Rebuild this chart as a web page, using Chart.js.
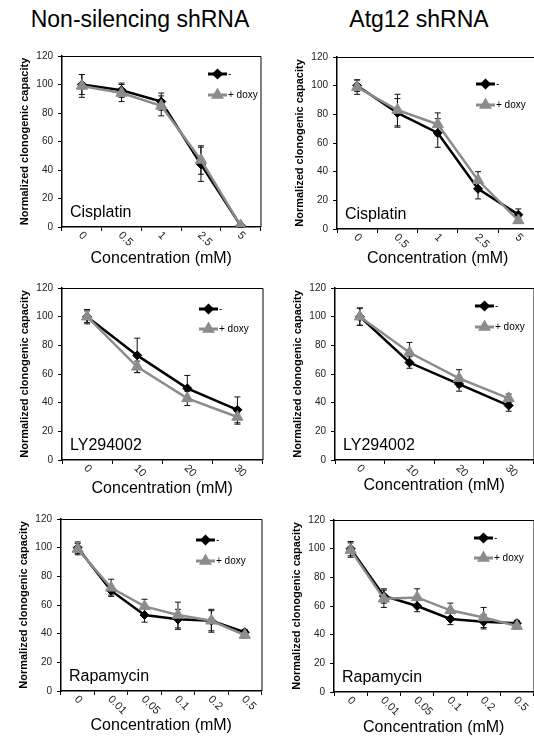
<!DOCTYPE html>
<html>
<head>
<meta charset="utf-8">
<script src="https://cdn.jsdelivr.net/npm/chart.js@4.4.0/dist/chart.umd.min.js"></script>
<style>
  html, body { margin: 0; padding: 0; background: #fff; }
  body { position: relative; width: 534px; height: 736px; overflow: hidden; font-family: "Liberation Sans", Arial, sans-serif; }
  .head { position: absolute; top: 8px; font-size: 23px; line-height: 23px; color: #000; white-space: nowrap; transform: translateX(-50%); }
  canvas { position: absolute; }
</style>
</head>
<body>
<div class="head" style="left:140px">Non-silencing shRNA</div>
<div class="head" style="left:419px">Atg12 shRNA</div>
<script>
"use strict";

// dose labels (mM)
const cisplatinDoses = ['0', '0.5', '1', '2.5', '5']
const lyDoses = ['0', '10', '20', '30']
const rapaDoses = ['0', '0.01', '0.05', '0.1', '0.2', '0.5']

// non-silencing shRNA
const nsCisCtrl = [100, 96, 88, 44, 1]
const nsCisCtrlErr = [7, 5, 6, 12, 1]
const nsCisDoxy = [99, 94, 85, 47, 1]
const nsCisDoxyErr = [8, 6, 7, 10, 1]

const nsLyCtrl = [100, 73, 50, 35]
const nsLyCtrlErr = [5, 12, 9, 9]
const nsLyDoxy = [100, 65, 43, 30]
const nsLyDoxyErr = [4, 4, 5, 5]

const nsRapaCtrl = [100, 70, 53, 50, 49, 41]
const nsRapaCtrlErr = [4, 3, 5, 7, 7, 2]
const nsRapaDoxy = [99, 72, 59, 53, 49, 39]
const nsRapaDoxyErr = [4, 6, 5, 9, 8, 2]

// Atg12 shRNA
const atgCisCtrl = [100, 81, 67, 28, 10]
const atgCisCtrlErr = [4, 10, 10, 7, 4]
const atgCisDoxy = [99, 83, 73, 34, 6]
const atgCisDoxyErr = [5, 11, 8, 6, 2]

const atgLyCtrl = [100, 68, 53, 38]
const atgLyCtrlErr = [6, 4, 5, 4]
const atgLyDoxy = [100, 75, 57, 43]
const atgLyDoxyErr = [6, 7, 6, 3]

const atgRapaCtrl = [100, 67, 60, 51, 49, 48]
const atgRapaCtrlErr = [5, 5, 4, 4, 5, 2]
const atgRapaDoxy = [99, 65, 66, 57, 52, 46]
const atgRapaDoxyErr = [5, 6, 6, 5, 7, 2]

const yTicks = [0, 20, 40, 60, 80, 100, 120]

const BLACK = '#000000'
const GREY = '#8c8c8c'
const FONT = '"Liberation Sans", Arial, sans-serif'

const panels = [
    { id: 'p1', drug: 'Cisplatin', doses: cisplatinDoses, ctrl: nsCisCtrl, ctrlErr: nsCisCtrlErr, doxy: nsCisDoxy, doxyErr: nsCisDoxyErr,
      box: [62, 55, 262, 227], legendX: 146, legendY: [18, 39], titleDy: 36 },
    { id: 'p2', drug: 'Cisplatin', doses: cisplatinDoses, ctrl: atgCisCtrl, ctrlErr: atgCisCtrlErr, doxy: atgCisDoxy, doxyErr: atgCisDoxyErr,
      box: [337, 56, 540, 229], legendX: 139, legendY: [27, 48], titleDy: 34 },
    { id: 'p3', drug: 'LY294002', doses: lyDoses, ctrl: nsLyCtrl, ctrlErr: nsLyCtrlErr, doxy: nsLyDoxy, doxyErr: nsLyDoxyErr,
      box: [62, 287, 264, 460], legendX: 137, legendY: [21, 41], titleDy: 33 },
    { id: 'p4', drug: 'LY294002', doses: lyDoses, ctrl: atgLyCtrl, ctrlErr: atgLyCtrlErr, doxy: atgLyDoxy, doxyErr: atgLyDoxyErr,
      box: [335, 287, 535, 460], legendX: 140, legendY: [18, 39], titleDy: 30 },
    { id: 'p5', drug: 'Rapamycin', doses: rapaDoses, ctrl: nsRapaCtrl, ctrlErr: nsRapaCtrlErr, doxy: nsRapaDoxy, doxyErr: nsRapaDoxyErr,
      box: [61, 518, 263, 691], legendX: 135, legendY: [21, 42], titleDy: 39 },
    { id: 'p6', drug: 'Rapamycin', doses: rapaDoses, ctrl: atgRapaCtrl, ctrlErr: atgRapaCtrlErr, doxy: atgRapaDoxy, doxyErr: atgRapaDoxyErr,
      box: [334, 519, 535, 692], legendX: 140, legendY: [18, 38], titleDy: 40 }
]

const Y_AXIS_W = 50
const X_AXIS_H = 50
const PAD_TOP = 10
const PAD_RIGHT = 6

const makeDecor = panel => ({
    id: 'decor',
    beforeDatasetsDraw(chart) {
        const ctx = chart.ctx
        const y = chart.scales.y
        const errs = [panel.ctrlErr, panel.doxyErr]
        ctx.save()
        ctx.strokeStyle = '#111'
        ctx.lineWidth = 1
        chart.data.datasets.forEach((ds, i) => {
            const meta = chart.getDatasetMeta(i)
            ds.data.forEach((v, j) => {
                const px = meta.data[j].x
                const top = y.getPixelForValue(v + errs[i][j])
                const bot = y.getPixelForValue(v - errs[i][j])
                ctx.beginPath()
                ctx.moveTo(px, top); ctx.lineTo(px, bot)
                ctx.moveTo(px - 3, top); ctx.lineTo(px + 3, top)
                ctx.moveTo(px - 3, bot); ctx.lineTo(px + 3, bot)
                ctx.stroke()
            })
        })
        ctx.restore()
    },
    afterDraw(chart) {
        const ctx = chart.ctx
        const a = chart.chartArea
        const x = chart.scales.x
        ctx.save()
        // top and right frame
        ctx.strokeStyle = BLACK
        ctx.lineWidth = 1
        ctx.beginPath()
        ctx.moveTo(a.left, a.top + 0.5); ctx.lineTo(a.right + 0.5, a.top + 0.5); ctx.lineTo(a.right + 0.5, a.bottom)
        ctx.stroke()

        // rotated dose labels
        ctx.fillStyle = '#222'
        ctx.font = '11px ' + FONT
        ctx.textAlign = 'left'
        ctx.textBaseline = 'middle'
        panel.doses.forEach((d, i) => {
            const px = x.getPixelForValue(i)
            ctx.save()
            ctx.translate(px - 1.5, a.bottom + 6.5)
            ctx.rotate(Math.PI / 4)
            ctx.fillText(d, 0, 0)
            ctx.restore()
        })

        // axis title
        ctx.fillStyle = BLACK
        ctx.font = '16px ' + FONT
        ctx.textAlign = 'center'
        ctx.textBaseline = 'alphabetic'
        ctx.fillText('Concentration (mM)', (a.left + a.right) / 2, a.bottom + panel.titleDy)

        // drug name
        ctx.textAlign = 'left'
        ctx.fillText(panel.drug, a.left + 8, a.bottom - 10)

        // legend
        const rows = [
            { text: '-', color: BLACK, style: 'rectRot', r: 3.5 },
            { text: '+ doxy', color: GREY, style: 'triangle', r: 4.5 }
        ]
        rows.forEach((row, k) => {
            const lx = a.left + panel.legendX
            const ly = a.top + panel.legendY[k]
            ctx.strokeStyle = row.color
            ctx.fillStyle = row.color
            ctx.lineWidth = 3
            ctx.beginPath()
            ctx.moveTo(lx, ly); ctx.lineTo(lx + 19, ly)
            ctx.stroke()
            Chart.helpers.drawPoint(ctx, { pointStyle: row.style, radius: row.r, rotation: 0, borderWidth: 1 }, lx + 9.5, ly)
            ctx.fillStyle = BLACK
            ctx.font = '10px ' + FONT
            ctx.textBaseline = 'middle'
            ctx.fillText(row.text, lx + 20, ly + 0.5)
        })
        ctx.restore()
    }
})

panels.forEach(panel => {
    const [left, top, right, bottom] = panel.box
    const canvas = document.createElement('canvas')
    canvas.id = panel.id
    const w = right - left + Y_AXIS_W + PAD_RIGHT
    const h = bottom - top + PAD_TOP + X_AXIS_H
    canvas.width = w
    canvas.height = h
    canvas.style.left = (left - Y_AXIS_W) + 'px'
    canvas.style.top = (top - PAD_TOP) + 'px'
    canvas.style.width = w + 'px'
    canvas.style.height = h + 'px'
    document.body.appendChild(canvas)

    new Chart(canvas, {
        type: 'line',
        data: {
            labels: panel.doses,
            datasets: [
                {
                    label: '-', data: panel.ctrl, order: 1,
                    borderColor: BLACK, backgroundColor: BLACK, borderWidth: 2.5,
                    pointStyle: 'rectRot', pointRadius: 4.5, pointBorderWidth: 1,
                    pointBackgroundColor: BLACK, pointBorderColor: BLACK, tension: 0
                },
                {
                    label: '+ doxy', data: panel.doxy, order: 0,
                    borderColor: GREY, backgroundColor: GREY, borderWidth: 2.5,
                    pointStyle: 'triangle', pointRadius: 6.5, pointBorderWidth: 1,
                    pointBackgroundColor: GREY, pointBorderColor: GREY, tension: 0
                }
            ]
        },
        options: {
            responsive: false,
            animation: false,
            devicePixelRatio: 1,
            layout: { padding: { top: PAD_TOP, right: PAD_RIGHT, left: 0, bottom: 0 } },
            plugins: { legend: { display: false }, tooltip: { enabled: false } },
            scales: {
                x: {
                    type: 'category',
                    offset: true,
                    afterFit: s => { s.height = X_AXIS_H },
                    grid: { display: true, offset: true, drawOnChartArea: false, drawTicks: true, tickLength: 4, color: BLACK, lineWidth: 1 },
                    border: { display: true, color: BLACK, width: 1.5 },
                    ticks: { display: false }
                },
                y: {
                    min: 0, max: 120,
                    afterFit: s => { s.width = Y_AXIS_W },
                    afterBuildTicks: s => { s.ticks = yTicks.map(v => ({ value: v })) },
                    grid: { display: true, drawOnChartArea: false, drawTicks: true, tickLength: 4, color: BLACK, lineWidth: 1 },
                    border: { display: true, color: BLACK, width: 1.5 },
                    ticks: { color: '#222', padding: 5, font: { family: FONT, size: 10 } },
                    title: {
                        display: true, text: 'Normalized clonogenic capacity', color: BLACK,
                        font: { family: FONT, size: 11, weight: 'bold' }, padding: { top: 6, bottom: 0 }
                    }
                }
            }
        },
        plugins: [makeDecor(panel)]
    })
})
</script>
</body>
</html>
